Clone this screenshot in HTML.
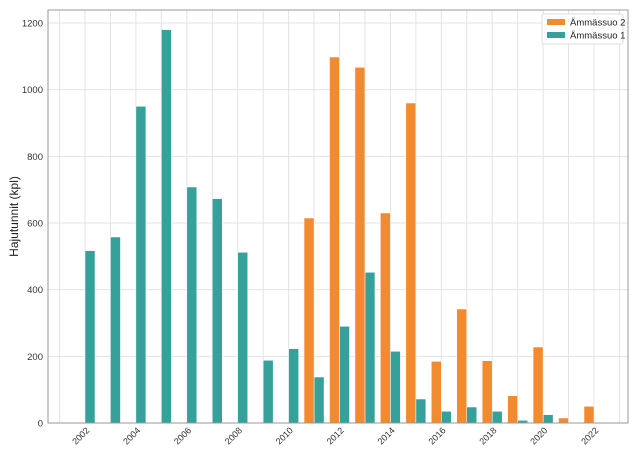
<!DOCTYPE html><html><head><style>body{margin:0;background:#fff}svg{display:block;font-family:"Liberation Sans",sans-serif}</style></head><body>
<svg width="640" height="457" xmlns="http://www.w3.org/2000/svg">
<rect width="640" height="457" fill="#fff"/>
<g stroke="#e3e3e3" stroke-width="1">
<line x1="59.55" y1="10" x2="59.55" y2="423"/><line x1="85" y1="10" x2="85" y2="423"/><line x1="110.45" y1="10" x2="110.45" y2="423"/><line x1="135.9" y1="10" x2="135.9" y2="423"/><line x1="161.35" y1="10" x2="161.35" y2="423"/><line x1="186.8" y1="10" x2="186.8" y2="423"/><line x1="212.25" y1="10" x2="212.25" y2="423"/><line x1="237.7" y1="10" x2="237.7" y2="423"/><line x1="263.15" y1="10" x2="263.15" y2="423"/><line x1="288.6" y1="10" x2="288.6" y2="423"/><line x1="314.05" y1="10" x2="314.05" y2="423"/><line x1="339.5" y1="10" x2="339.5" y2="423"/><line x1="364.95" y1="10" x2="364.95" y2="423"/><line x1="390.4" y1="10" x2="390.4" y2="423"/><line x1="415.85" y1="10" x2="415.85" y2="423"/><line x1="441.3" y1="10" x2="441.3" y2="423"/><line x1="466.75" y1="10" x2="466.75" y2="423"/><line x1="492.2" y1="10" x2="492.2" y2="423"/><line x1="517.65" y1="10" x2="517.65" y2="423"/><line x1="543.1" y1="10" x2="543.1" y2="423"/><line x1="568.55" y1="10" x2="568.55" y2="423"/><line x1="594" y1="10" x2="594" y2="423"/><line x1="619.45" y1="10" x2="619.45" y2="423"/>
<line x1="48" y1="356.33" x2="628" y2="356.33"/><line x1="48" y1="289.67" x2="628" y2="289.67"/><line x1="48" y1="223" x2="628" y2="223"/><line x1="48" y1="156.33" x2="628" y2="156.33"/><line x1="48" y1="89.67" x2="628" y2="89.67"/><line x1="48" y1="23" x2="628" y2="23"/>
</g>
<g font-size="9.5" fill="#333" text-anchor="end">
<text x="43" y="426.5">0</text><text x="43" y="359.8">200</text><text x="43" y="293.2">400</text><text x="43" y="226.5">600</text><text x="43" y="159.8">800</text><text x="43" y="93.2">1000</text><text x="43" y="26.5">1200</text>
</g>
<g fill="#36a19a" stroke="#fff" stroke-width="0.5">
<rect x="85" y="250.67" width="10" height="172.33"/><rect x="110.45" y="237" width="10" height="186"/><rect x="135.9" y="106.33" width="10" height="316.67"/><rect x="161.35" y="29.67" width="10" height="393.33"/><rect x="186.8" y="187" width="10" height="236"/><rect x="212.25" y="198.67" width="10" height="224.33"/><rect x="237.7" y="252.33" width="10" height="170.67"/><rect x="263.15" y="360.33" width="10" height="62.67"/><rect x="288.6" y="348.67" width="10" height="74.33"/><rect x="314.05" y="377" width="10" height="46"/><rect x="339.5" y="326.33" width="10" height="96.67"/><rect x="364.95" y="272.33" width="10" height="150.67"/><rect x="390.4" y="351.33" width="10" height="71.67"/><rect x="415.85" y="399" width="10" height="24"/><rect x="441.3" y="411.33" width="10" height="11.67"/><rect x="466.75" y="407" width="10" height="16"/><rect x="492.2" y="411.33" width="10" height="11.67"/><rect x="517.65" y="420.33" width="10" height="2.67"/><rect x="543.1" y="414.67" width="10" height="8.33"/>
</g>
<g fill="#f28a30" stroke="#fff" stroke-width="0.5">
<rect x="304.05" y="218" width="10" height="205"/><rect x="329.5" y="57" width="10" height="366"/><rect x="354.95" y="67.33" width="10" height="355.67"/><rect x="380.4" y="213" width="10" height="210"/><rect x="405.85" y="103" width="10" height="320"/><rect x="431.3" y="361.33" width="10" height="61.67"/><rect x="456.75" y="309" width="10" height="114"/><rect x="482.2" y="360.67" width="10" height="62.33"/><rect x="507.65" y="395.67" width="10" height="27.33"/><rect x="533.1" y="347" width="10" height="76"/><rect x="558.55" y="418" width="10" height="5"/><rect x="584" y="406.33" width="10" height="16.67"/>
</g>
<g font-size="9" fill="#333" text-anchor="end">
<text transform="translate(90,431) rotate(-45)">2002</text><text transform="translate(140.9,431) rotate(-45)">2004</text><text transform="translate(191.8,431) rotate(-45)">2006</text><text transform="translate(242.7,431) rotate(-45)">2008</text><text transform="translate(293.6,431) rotate(-45)">2010</text><text transform="translate(344.5,431) rotate(-45)">2012</text><text transform="translate(395.4,431) rotate(-45)">2014</text><text transform="translate(446.3,431) rotate(-45)">2016</text><text transform="translate(497.2,431) rotate(-45)">2018</text><text transform="translate(548.1,431) rotate(-45)">2020</text><text transform="translate(599,431) rotate(-45)">2022</text>
</g>
<rect x="48" y="10" width="580" height="413" fill="none" stroke="#999" stroke-width="1"/>
<text transform="translate(18,216.5) rotate(-90)" font-size="12" fill="#222" text-anchor="middle">Hajutunnit (kpl)</text>
<rect x="542" y="14" width="81" height="30" rx="2" fill="#fff" stroke="#ddd"/>
<rect x="547" y="19" width="18" height="6" fill="#f28a30"/><text x="570" y="25.5" font-size="9.5" fill="#222">Ämmässuo 2</text>
<rect x="547" y="32" width="18" height="6" fill="#36a19a"/><text x="570" y="38.5" font-size="9.5" fill="#222">Ämmässuo 1</text>
</svg></body></html>
